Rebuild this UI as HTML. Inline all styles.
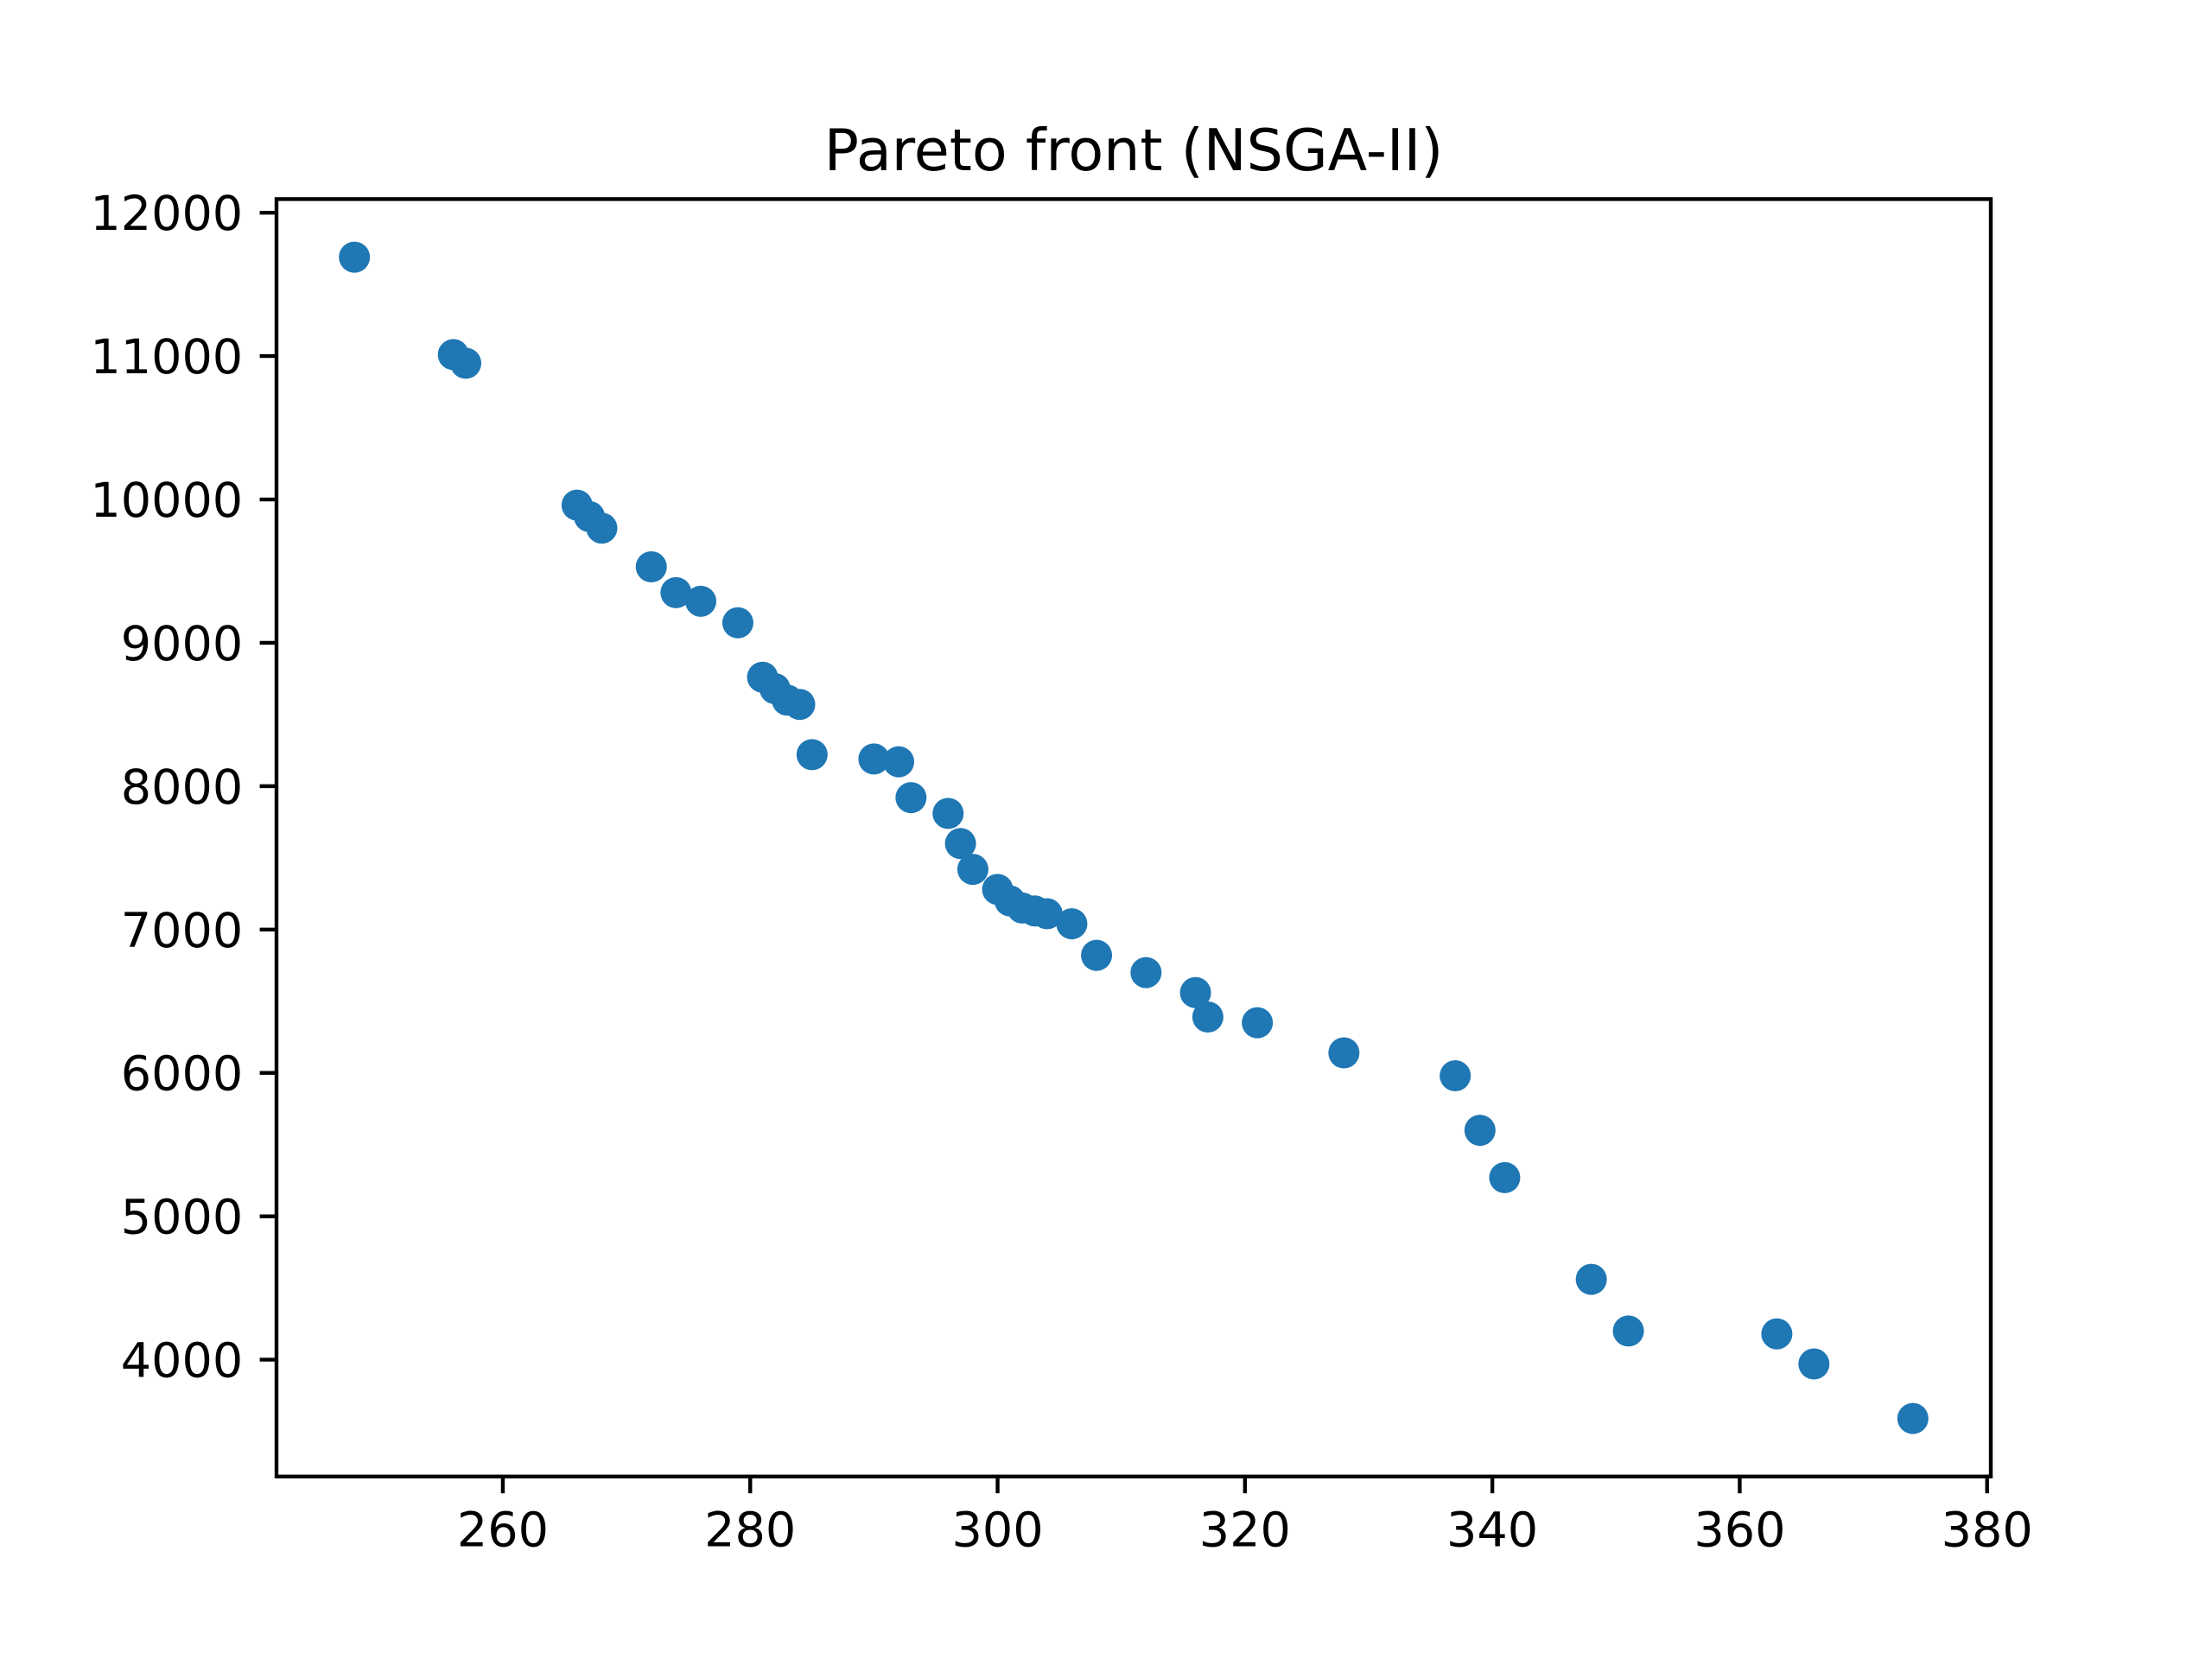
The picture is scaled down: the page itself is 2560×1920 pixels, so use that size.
<!DOCTYPE html>
<html><head><meta charset="utf-8"><style>
html,body{margin:0;padding:0;background:#fff}
svg{display:block}
text{font-family:"DejaVu Sans","Liberation Sans",sans-serif;fill:#000}
</style></head><body>
<svg id="chart" width="2560" height="1920" viewBox="0 0 2560 1920">
<rect width="2560" height="1920" fill="#fff"/>
<text x="1312" y="197" font-size="66.7" text-anchor="middle">Pareto front (NSGA-II)</text>
<g id="points"></g>
<g id="xticks"></g>
<g id="yticks"></g>
<rect x="320" y="230.4" width="1984" height="1478.4" fill="none" stroke="#000" stroke-width="4.4"/>
</svg>
<script>
const xValues = [248,256,257,266,267,268,272,274,276,279,281,282,283,284,285,290,292,293,296,297,298,300,301,302,303,304,306,308,312,316,317,321,328,337,339,341,348,351,363,366,374];
const yValues = [11690,11010,10950,9960,9880,9800,9530,9350,9290,9140,8760,8680,8600,8570,8220,8190,8170,7920,7810,7600,7420,7280,7200,7150,7130,7110,7040,6820,6700,6560,6390,6350,6140,5980,5600,5270,4560,4200,4180,3970,3590];
const xTickValues = [260,280,300,320,340,360,380];
const yTickValues = [4000,5000,6000,7000,8000,9000,10000,11000,12000];

const NS = 'http://www.w3.org/2000/svg';
const L = 320, R = 2304, T = 230.4, B = 1708.8;
const xmin0 = Math.min(...xValues), xmax0 = Math.max(...xValues);
const ymin0 = Math.min(...yValues), ymax0 = Math.max(...yValues);
const xpad = (xmax0 - xmin0) * 0.05, ypad = (ymax0 - ymin0) * 0.05;
const xmin = xmin0 - xpad, xmax = xmax0 + xpad, ymin = ymin0 - ypad, ymax = ymax0 + ypad;
function sx(v){ return L + (v - xmin) / (xmax - xmin) * (R - L); }
function sy(v){ return B - (v - ymin) / (ymax - ymin) * (B - T); }

const gp = document.getElementById('points');
xValues.forEach((x, i) => {
  const c = document.createElementNS(NS, 'circle');
  c.setAttribute('cx', sx(x));
  c.setAttribute('cy', sy(yValues[i]));
  c.setAttribute('r', 18);
  c.setAttribute('fill', '#1f77b4');
  
  
  gp.appendChild(c);
});

const gx = document.getElementById('xticks');
xTickValues.forEach(v => {
  if (v < xmin || v > xmax) return;
  const x = sx(v);
  const ln = document.createElementNS(NS, 'line');
  ln.setAttribute('x1', x); ln.setAttribute('x2', x);
  ln.setAttribute('y1', B); ln.setAttribute('y2', B + 19.4);
  ln.setAttribute('stroke', '#000'); ln.setAttribute('stroke-width', 4.4);
  
  
  gx.appendChild(ln);
  const t = document.createElementNS(NS, 'text');
  t.setAttribute('x', x); t.setAttribute('y', B + 19.4 + 19.4 + 42);
  t.setAttribute('font-size', '55.6'); t.setAttribute('text-anchor', 'middle');
  t.textContent = v;
  
  
  gx.appendChild(t);
});

const gy = document.getElementById('yticks');
yTickValues.forEach(v => {
  if (v < ymin || v > ymax) return;
  const y = sy(v);
  const ln = document.createElementNS(NS, 'line');
  ln.setAttribute('x1', L - 19.4); ln.setAttribute('x2', L);
  ln.setAttribute('y1', y); ln.setAttribute('y2', y);
  ln.setAttribute('stroke', '#000'); ln.setAttribute('stroke-width', 4.4);
  
  
  gy.appendChild(ln);
  const t = document.createElementNS(NS, 'text');
  t.setAttribute('x', L - 19.4 - 19.4); t.setAttribute('y', y + 20);
  t.setAttribute('font-size', '55.6'); t.setAttribute('text-anchor', 'end');
  t.textContent = v;
  
  
  gy.appendChild(t);
});
</script>
</body></html>
